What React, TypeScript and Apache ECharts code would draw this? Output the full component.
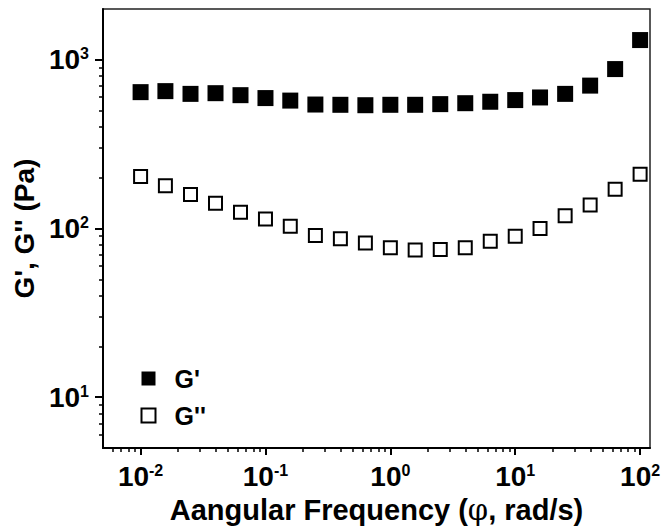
import React, { useEffect, useRef } from 'react';
import * as echarts from 'echarts';

// Angular frequency (rad/s)
const frequency = [0.01, 0.0158, 0.0251, 0.0398, 0.0631, 0.1, 0.158, 0.251, 0.398, 0.631, 1, 1.58, 2.51, 3.98, 6.31, 10, 15.8, 25.1, 39.8, 63.1, 100];
// Storage modulus G' (Pa)
const gPrime = [643, 652, 628, 634, 617, 593, 573, 543, 541, 538, 541, 541, 546, 553, 564, 577, 598, 628, 703, 881, 1309];
// Loss modulus G'' (Pa)
const gDoublePrime = [203, 179, 159, 141, 125, 114, 103, 91, 87, 82, 77, 74.5, 75, 77, 84, 90, 100, 119, 138, 171, 210];

const seriesNames = ["G'", "G''"];
const xMajorTicks = [0.01, 0.1, 1, 10, 100];
const yMajorTicks = [10, 100, 1000];
const xRange = [0.005, 120];
const yRange = [5, 2000];
const minorMultipliers = [2, 3, 4, 5, 6, 7, 8, 9];
const xDecades = [0.001, 0.01, 0.1, 1, 10, 100];
const yDecades = [1, 10, 100, 1000];

const FONT = 'Liberation Sans, Arial, sans-serif';

function minorTicks(decades: number[], range: number[]) {
  const out: number[] = [];
  decades.forEach((d) =>
    minorMultipliers.forEach((m) => {
      const v = +(d * m).toPrecision(6);
      if (v > range[0] && v < range[1]) out.push(v);
    })
  );
  return out;
}

const powLabel = (v: number) => {
  const e = Math.round(Math.log10(v));
  return `{b|10}{s|${e}}`;
};

const labelRich = {
  b: { fontSize: 28, fontWeight: 'bold', fontFamily: FONT, color: '#000' },
  s: { fontSize: 16, fontWeight: 'bold', fontFamily: FONT, color: '#000', verticalAlign: 'top' },
};

const legendText = { fontSize: 25, fontWeight: 'bold', fontFamily: FONT, color: '#000' };

export default function App() {
  const ref = useRef<HTMLDivElement>(null);
  useEffect(() => {
    document.body.style.margin = '0';
    if (!ref.current) return;
    const chart = echarts.init(ref.current, null, { renderer: 'svg' });
    const xMinor = minorTicks(xDecades, xRange);
    const yMinor = minorTicks(yDecades, yRange);
    const axisLineStyle = { color: '#000', width: 2 };
    chart.setOption({
      animation: false,
      backgroundColor: '#fff',
      grid: {
        left: 103,
        right: 15,
        top: 9,
        bottom: 81,
        show: true,
        borderColor: '#222',
        borderWidth: 1.5,
        backgroundColor: 'transparent',
        containLabel: false,
        outerBoundsMode: 'none',
      },
      legend: {
        orient: 'vertical',
        left: 135.5,
        top: 361,
        itemWidth: 14,
        itemHeight: 14,
        itemGap: 12,
        icon: 'rect',
        data: seriesNames.map((n) => ({ name: n, textStyle: legendText })),
        textStyle: { ...legendText, padding: [0, 0, 0, 14] },
      },
      xAxis: [
        {
          type: 'log',
          logBase: 10,
          min: xRange[0],
          max: xRange[1],
          position: 'bottom',
          name: '{t|Aangular Frequency (}{p|φ}{t|, rad/s)}',
          nameLocation: 'middle',
          nameGap: 47,
          nameTextStyle: {
            rich: {
              t: { fontSize: 29, fontWeight: 'bold', fontFamily: FONT, color: '#000' },
              p: { fontSize: 29, fontWeight: 'normal', fontFamily: 'DejaVu Serif, serif', color: '#000' },
            },
          },
          axisLine: { show: true, onZero: false, lineStyle: axisLineStyle },
          axisTick: { show: true, inside: false, length: 7, customValues: xMajorTicks, lineStyle: axisLineStyle },
          axisLabel: { customValues: xMajorTicks, formatter: powLabel, rich: labelRich, margin: 14 },
          splitLine: { show: false },
          minorTick: { show: false },
        },
        {
          type: 'log',
          logBase: 10,
          min: xRange[0],
          max: xRange[1],
          position: 'bottom',
          axisLine: { show: false, onZero: false },
          axisTick: { show: true, inside: false, length: 4, customValues: xMinor, lineStyle: { color: '#000', width: 1.5 } },
          axisLabel: { show: false },
          splitLine: { show: false },
        },
      ],
      yAxis: [
        {
          type: 'log',
          logBase: 10,
          min: yRange[0],
          max: yRange[1],
          position: 'left',
          name: "G', G'' (Pa)",
          nameLocation: 'middle',
          nameGap: 62,
          nameTextStyle: { fontSize: 28, fontWeight: 'bold', fontFamily: FONT, color: '#000' },
          axisLine: { show: true, onZero: false, lineStyle: axisLineStyle },
          axisTick: { show: true, inside: false, length: 8, customValues: yMajorTicks, lineStyle: axisLineStyle },
          axisLabel: { customValues: yMajorTicks, formatter: powLabel, rich: labelRich, margin: 14 },
          splitLine: { show: false },
          minorTick: { show: false },
        },
        {
          type: 'log',
          logBase: 10,
          min: yRange[0],
          max: yRange[1],
          position: 'left',
          axisLine: { show: false, onZero: false },
          axisTick: { show: true, inside: false, length: 4, customValues: yMinor, lineStyle: { color: '#000', width: 1.5 } },
          axisLabel: { show: false },
          splitLine: { show: false },
        },
      ],
      series: [
        {
          name: seriesNames[0],
          type: 'scatter',
          xAxisIndex: 0,
          yAxisIndex: 0,
          symbol: 'rect',
          symbolSize: 16,
          itemStyle: { color: '#000', opacity: 1 },
          data: frequency.map((f, i) => [f, gPrime[i]]),
        },
        {
          name: seriesNames[1],
          type: 'scatter',
          xAxisIndex: 0,
          yAxisIndex: 0,
          symbol: 'rect',
          symbolSize: 13,
          itemStyle: { color: '#fff', borderColor: '#000', borderWidth: 2, opacity: 1 },
          data: frequency.map((f, i) => [f, gDoublePrime[i]]),
        },
      ],
    });
    return () => chart.dispose();
  }, []);
  return <div ref={ref} style={{ width: 665, height: 529 }} />;
}
